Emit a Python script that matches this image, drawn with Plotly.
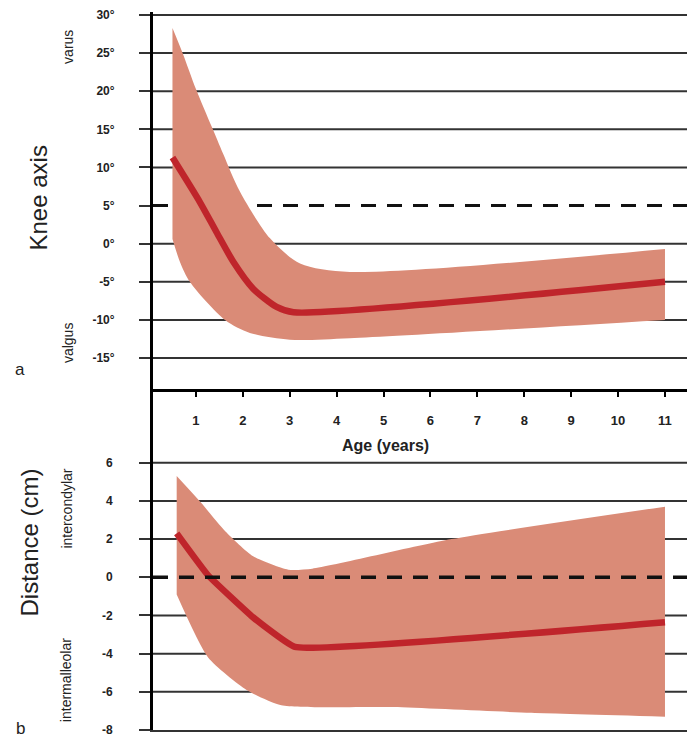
import plotly.graph_objects as go

# ---------------- data ----------------
# Panel a: knee axis (degrees)
a_mean_age = [0.5, 1.09, 1.44, 1.8, 2.22, 2.72, 3.08, 11.0]
a_mean = [11.3, 5.4, 1.5, -2.4, -5.9, -8.3, -9.0, -5.0]
a_upper_age = [0.5, 0.73, 1.0, 1.34, 1.58, 1.94, 2.58, 3.22, 4.28, 11.0]
a_upper = [28.3, 24.8, 20.3, 15.3, 11.8, 6.8, 0.7, -2.6, -3.7, -0.7]
a_lower_age = [0.5, 0.66, 0.87, 1.62, 2.15, 3.0, 4.28, 11.0]
a_lower = [0.6, -2.4, -5.0, -10.0, -11.7, -12.6, -12.4, -10.0]

# Panel b: intercondylar / intermalleolar distance (cm)
b_mean_age = [0.59, 1.26, 2.22, 3.11, 11.0]
b_mean = [2.3, 0.1, -2.1, -3.65, -2.35]
b_upper_age = [0.59, 1.11, 1.63, 2.22, 2.97, 3.48, 6.45, 11.0]
b_upper = [5.3, 3.9, 2.4, 1.1, 0.4, 0.45, 2.0, 3.7]
b_lower_age = [0.59, 1.26, 2.08, 2.82, 5.19, 8.15, 11.0]
b_lower = [-0.9, -4.2, -5.9, -6.7, -6.8, -7.1, -7.3]

age_ticks = [1, 2, 3, 4, 5, 6, 7, 8, 9, 10, 11]
a_ticks = [30, 25, 20, 15, 10, 5, 0, -5, -10, -15]
a_ticktext = ["30°", "25°", "20°", "15°", "10°", "5°", "0°", "-5°", "-10°", "-15°"]
a_ref = 5
b_ticks = [6, 4, 2, 0, -2, -4, -6, -8]
b_ticktext = ["6", "4", "2", "0", "-2", "-4", "-6", "-8"]
b_ref = 0

# ---------------- style ----------------
BAND = "#DA8B77"
LINE = "#BF252B"
GRID = "#333333"
TXT = "#222222"
FONT = "Liberation Sans, Arial, sans-serif"

OFF = 8  # the page body adds an 8px margin; lay out in page pixels minus this
W, H = 695 - OFF, 744 - OFF
TOP = 10      # page y of top panel's upper edge
MID = 388     # page y of the panel boundary (x axis of panel a)
BOT = 730     # page y of the bottom x axis
ML, MR, MT, MB = 153 - OFF, 0, TOP - OFF, 744 - BOT
PH = H - MT - MB
PW = W - ML - MR
split = (BOT - MID) / PH


def px_x(p):
    return (p - 153) / PW


def px_y(p):
    return (BOT - p) / PH


fig = go.Figure()

# panel a band + mean
fig.add_trace(go.Scatter(x=a_upper_age, y=a_upper, mode="lines",
                         line=dict(width=0, shape="spline", smoothing=0.8, color=BAND),
                         xaxis="x2", yaxis="y2", showlegend=False, hoverinfo="skip"))
fig.add_trace(go.Scatter(x=a_lower_age, y=a_lower, mode="lines", fill="tonexty",
                         fillcolor=BAND,
                         line=dict(width=0, shape="spline", smoothing=0.8, color=BAND),
                         xaxis="x2", yaxis="y2", showlegend=False, hoverinfo="skip"))
fig.add_trace(go.Scatter(x=a_mean_age, y=a_mean, mode="lines",
                         line=dict(width=6.5, shape="spline", smoothing=0.7, color=LINE),
                         xaxis="x2", yaxis="y2", showlegend=False))

# panel b band + mean
fig.add_trace(go.Scatter(x=b_upper_age, y=b_upper, mode="lines",
                         line=dict(width=0, shape="spline", smoothing=0.6, color=BAND),
                         xaxis="x", yaxis="y", showlegend=False, hoverinfo="skip"))
fig.add_trace(go.Scatter(x=b_lower_age, y=b_lower, mode="lines", fill="tonexty",
                         fillcolor=BAND,
                         line=dict(width=0, shape="spline", smoothing=0.6, color=BAND),
                         xaxis="x", yaxis="y", showlegend=False, hoverinfo="skip"))
fig.add_trace(go.Scatter(x=b_mean_age, y=b_mean, mode="lines",
                         line=dict(width=6.5, shape="spline", smoothing=0.3, color=LINE),
                         xaxis="x", yaxis="y", showlegend=False))

shapes = []
for v in a_ticks:
    if v == a_ref:
        continue
    shapes.append(dict(type="line", xref="paper", yref="y2", x0=0, x1=1, y0=v, y1=v,
                       line=dict(color=GRID, width=2), layer="below"))
shapes.append(dict(type="line", xref="paper", yref="y2", x0=0, x1=1, y0=a_ref, y1=a_ref,
                   line=dict(color="#111111", width=3, dash="15px,11px"), layer="below"))
for v in b_ticks:
    if v == b_ref or v == b_ticks[-1]:
        continue
    shapes.append(dict(type="line", xref="paper", yref="y", x0=0, x1=1, y0=v, y1=v,
                       line=dict(color=GRID, width=2), layer="below"))
shapes.append(dict(type="line", xref="paper", yref="y", x0=0, x1=1, y0=b_ref, y1=b_ref,
                   line=dict(color="#111111", width=3.5, dash="15px,11px"), layer="above"))

xr = [0.085, 11.64]
# panel a: 30 at page y 13, -15 at page y 357
deg_px = (357 - 13) / 45.0
a_range = [-15 - (MID - 357) / deg_px, 30 + (13 - TOP) / deg_px]
# panel b: 6 at page y 462, -8 at page y 730
cm_px = (730 - 462) / 14.0
b_range = [-8, 6 + (462 - MID) / cm_px]

tickfont = dict(family=FONT, size=12, color=TXT, weight="bold")

fig.update_layout(
    width=W, height=H,
    margin=dict(l=ML, r=MR, t=MT, b=MB),
    paper_bgcolor="white", plot_bgcolor="white",
    font=dict(family=FONT, color=TXT),
    shapes=shapes,
    xaxis=dict(domain=[0, 1], anchor="y", range=xr, showgrid=False, zeroline=False,
               showline=True, linecolor="#333333", linewidth=2, showticklabels=False,
               ticks=""),
    yaxis=dict(domain=[0, split], range=b_range, tickvals=b_ticks, ticktext=b_ticktext,
               showgrid=False, zeroline=False, showline=True, linecolor="black",
               linewidth=3, ticks="outside", ticklen=11, tickwidth=2, tickcolor=GRID,
               tickfont=tickfont, ticklabelstandoff=24, ticklabeloverflow="allow"),
    xaxis2=dict(domain=[0, 1], anchor="y2", range=xr, tickvals=age_ticks,
                showgrid=False, zeroline=False, showline=True, linecolor="black",
                linewidth=3, ticks="outside", ticklen=5, tickwidth=2, tickcolor="black",
                tickfont=dict(family=FONT, size=13, color=TXT, weight="bold"),
                ticklabelstandoff=12),
    yaxis2=dict(domain=[split, 1], range=a_range, tickvals=a_ticks, ticktext=a_ticktext,
                showgrid=False, zeroline=False, showline=True, linecolor="black",
                linewidth=3, ticks="outside", ticklen=11, tickwidth=2, tickcolor=GRID,
                tickfont=tickfont, ticklabelstandoff=22, ticklabeloverflow="allow"),
)

ann = []
def add_text(t, xp, yp, size, angle=0, bold=False):
    ann.append(dict(text=t, xref="paper", yref="paper", x=px_x(xp), y=px_y(yp),
                    showarrow=False, textangle=angle, xanchor="center", yanchor="middle",
                    font=dict(family=FONT, size=size, color=TXT,
                              weight="bold" if bold else "normal")))

add_text("Age (years)", 385, 445, 16, bold=True)
add_text("Knee axis", 38, 197, 24, angle=-90)
add_text("varus", 68, 45, 14, angle=-90)
add_text("valgus", 68, 342, 14, angle=-90)
add_text("a", 20, 368, 17)
add_text("Distance (cm)", 30, 542, 24, angle=-90)
add_text("intercondylar", 67, 508, 14, angle=-90)
add_text("intermalleolar", 66, 680, 14, angle=-90)
add_text("b", 20, 728, 17)
fig.update_layout(annotations=ann)

fig.write_html("out.html")
